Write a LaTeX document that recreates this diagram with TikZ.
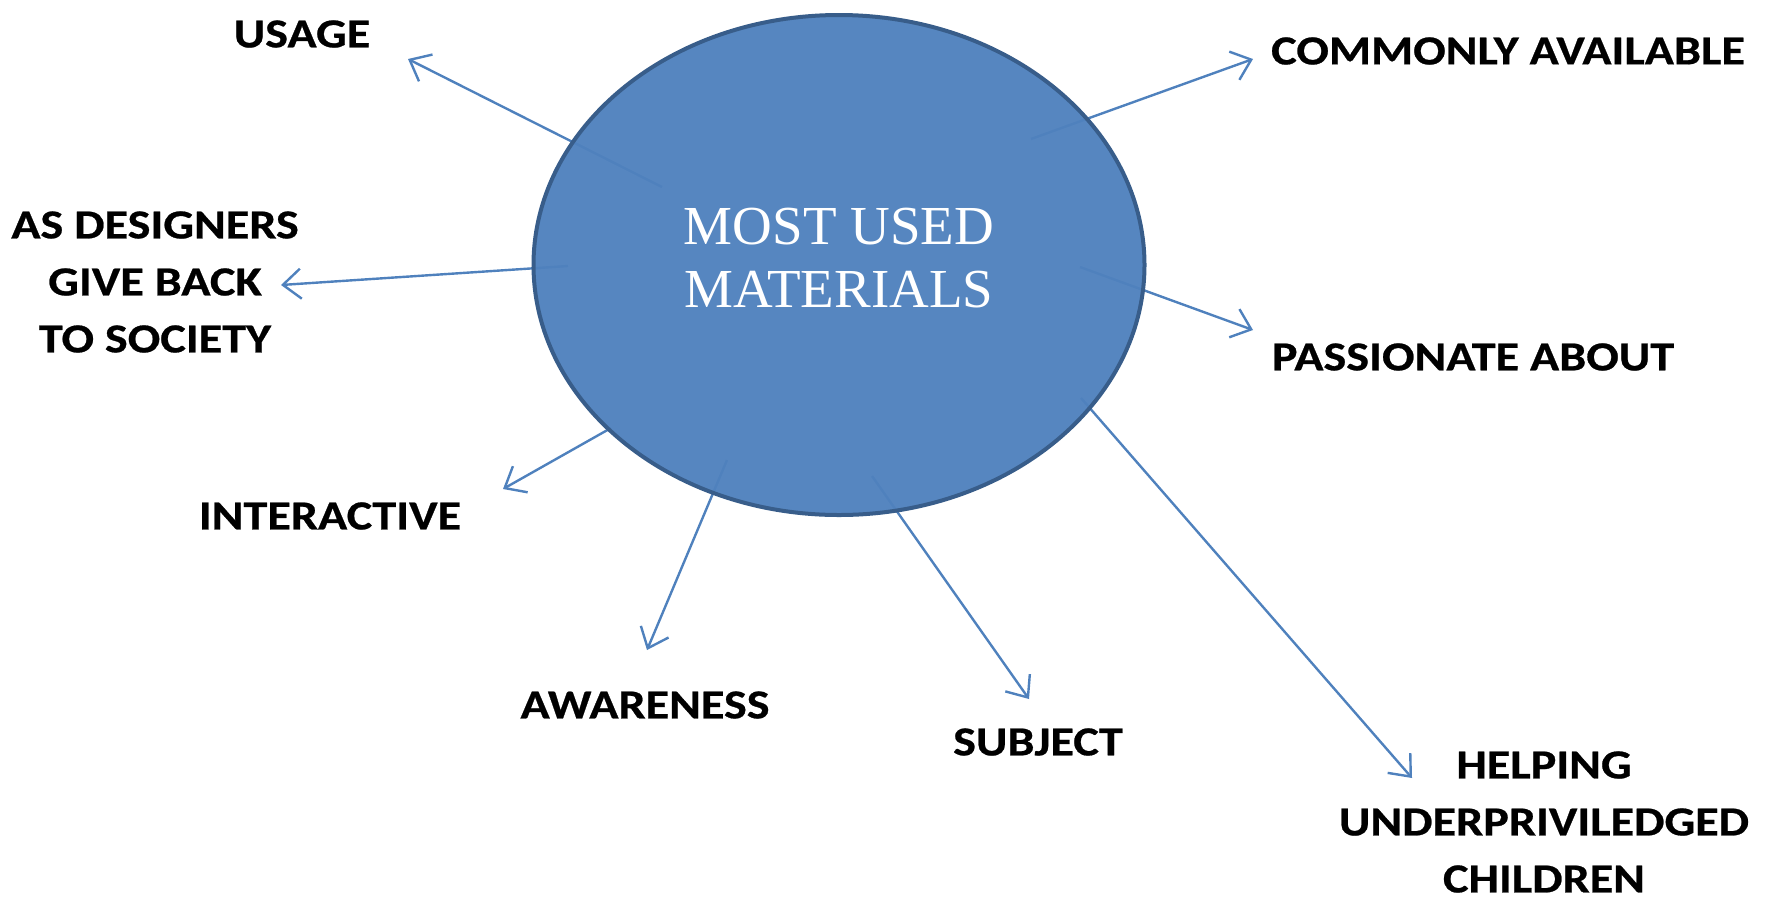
\documentclass[tikz,border=0pt]{standalone}
\usepackage{fontspec}
\setmainfont{Carlito}
\newfontfamily\lblfont{Carlito}[FakeStretch=1.17, FakeBold=0.6]
\newfontfamily\titlefont{Liberation Serif}
\usetikzlibrary{arrows.meta,shapes.geometric}
\definecolor{matblue}{HTML}{4F81BD}
\definecolor{matedge}{HTML}{385D8A}
\begin{document}
\begin{tikzpicture}[x=0.5pt,y=-0.5pt,
    lbl/.style={font=\lblfont\fontsize{20.6}{28.5}\selectfont\bfseries, align=center, inner sep=0pt},
    arr/.style={draw=matblue, line width=1.2pt, -{Straight Barb[length=9pt,width=15pt,line width=1.2pt]}}]
\useasboundingbox (0,0) rectangle (1767,901);
% start points (inside the ellipse) and tips
\coordinate (s1) at (662,187);  \coordinate (t1) at (408,59);
\coordinate (s2) at (1031,139); \coordinate (t2) at (1253,59);
\coordinate (s3) at (568,266);  \coordinate (t3) at (281,285);
\coordinate (s4) at (1080,267); \coordinate (t4) at (1253,330);
\coordinate (s5) at (611,428);  \coordinate (t5) at (503,489);
\coordinate (s6) at (727,460);  \coordinate (t6) at (647,650);
\coordinate (s7) at (872,476);  \coordinate (t7) at (1029,699);
\coordinate (s8) at (1081,398); \coordinate (t8) at (1412,778);
\foreach \i in {1,...,8}
    \draw[arr] (s\i) -- (t\i);
% centre
\node (mat) [ellipse, fill=matblue, fill opacity=0.96, draw=matedge, line width=2pt,
    minimum width=305.5pt, minimum height=250pt, inner sep=0pt] at (839,265) {};
\node (title) [text=white, align=center, font=\titlefont\fontsize{27.5}{31.5}\selectfont]
    at (839,258) {MOST USED\\MATERIALS};
% labels
\node (usage)   [lbl] at (302,34)   {USAGE};
\node (common)  [lbl] at (1508,51)  {COMMONLY AVAILABLE};
\node (design)  [lbl] at (155,282)  {AS DESIGNERS\\GIVE BACK\\TO SOCIETY};
\node (passion) [lbl] at (1473,357) {PASSIONATE ABOUT};
\node (inter)   [lbl] at (330,516)  {INTERACTIVE};
\node (aware)   [lbl] at (645,705)  {AWARENESS};
\node (subject) [lbl] at (1038,742) {SUBJECT};
\node (help)    [lbl] at (1544,822) {HELPING\\UNDERPRIVILEDGED\\CHILDREN};
\end{tikzpicture}
\end{document}
